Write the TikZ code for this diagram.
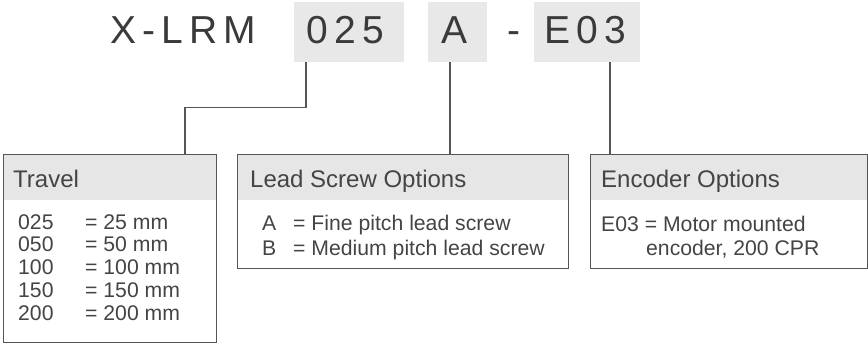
\documentclass[tikz,border=0pt]{standalone}
\usepackage{fontspec}
\setmainfont{Liberation Sans}
\newfontfamily\topfont[LetterSpace=16]{Liberation Sans}
\definecolor{txt}{HTML}{3A3A3A}
\definecolor{bodytxt}{HTML}{444444}
\definecolor{edge}{HTML}{555555}
\definecolor{hdr}{HTML}{E6E6E6}
\definecolor{codebg}{HTML}{E8E8E8}
\begin{document}
\begin{tikzpicture}[x=1pt,y=-1pt,
  codebox/.style={fill=codebg,draw=none,inner sep=0,minimum height=60pt,anchor=north west},
  codetxt/.style={inner sep=0,anchor=base west,text=txt,font=\topfont\fontsize{39}{39}\selectfont},
  optbox/.style={draw=edge,line width=1.4pt,inner sep=0,anchor=north west,
    path picture={\fill[hdr] (path picture bounding box.north west) rectangle ([yshift=-45pt]path picture bounding box.north east);}},
  hdtxt/.style={inner sep=0,anchor=base west,text=bodytxt,font=\fontsize{24}{24}\selectfont},
  bd/.style={inner sep=0,anchor=base west,text=bodytxt,font=\fontsize{21.2}{21.2}\selectfont},
  conn/.style={draw=edge,line width=1.4pt}]
\useasboundingbox (0,0) rectangle (868,343);
% top code boxes
\node[codebox,minimum width=110pt] (b025) at (294,2) {};
\node[codebox,minimum width=59pt] (bA) at (428,2) {};
\node[codebox,minimum width=106pt] (bE) at (534,2) {};
\node[codetxt] (tx) at (110,43) {X-LRM};
\node[codetxt] (t025) at (306,43) {025};
\node[codetxt] (tA) at (441,43) {A};
\node[codetxt] (tdash) at (507,43) {-};
\node[codetxt] (tE) at (544,43) {E03};
% option boxes
\node[optbox,minimum width=213pt,minimum height=188pt] (travel) at (3,154) {};
\node[optbox,minimum width=331pt,minimum height=114pt] (lead) at (237,154) {};
\node[optbox,minimum width=277pt,minimum height=114pt] (enc) at (590,154) {};
% connectors
\draw[conn] ([xshift=12pt]b025.south west) -- ++(0,45) -| ([xshift=182pt]travel.north west);
\draw[conn] ([xshift=22pt]bA.south west) -- ([xshift=22pt]bA.south west |- lead.north);
\draw[conn] ([xshift=76pt]bE.south west) -- ([xshift=76pt]bE.south west |- enc.north);
% headers
\node[hdtxt] (h1) at (13,187) {Travel};
\node[hdtxt] (h2) at (250,187) {Lead Screw Options};
\node[hdtxt] (h3) at (601,187) {Encoder Options};
% travel rows
\node[bd] (r1a) at (18,229) {025};
\node[bd] (r1b) at (85,229) {= 25 mm};
\node[bd] (r2a) at (18,251.75) {050};
\node[bd] (r2b) at (85,251.75) {= 50 mm};
\node[bd] (r3a) at (18,274.5) {100};
\node[bd] (r3b) at (85,274.5) {= 100 mm};
\node[bd] (r4a) at (18,297.25) {150};
\node[bd] (r4b) at (85,297.25) {= 150 mm};
\node[bd] (r5a) at (18,320) {200};
\node[bd] (r5b) at (85,320) {= 200 mm};
% lead rows
\node[bd] (l1a) at (262,230) {A};
\node[bd] (l1b) at (293,230) {= Fine pitch lead screw};
\node[bd] (l2a) at (262,255) {B};
\node[bd] (l2b) at (293,255) {= Medium pitch lead screw};
% encoder rows
\node[bd] (e1) at (601,231) {E03 = Motor mounted};
\node[bd] (e2) at (646,255) {encoder, 200 CPR};
\end{tikzpicture}
\end{document}
